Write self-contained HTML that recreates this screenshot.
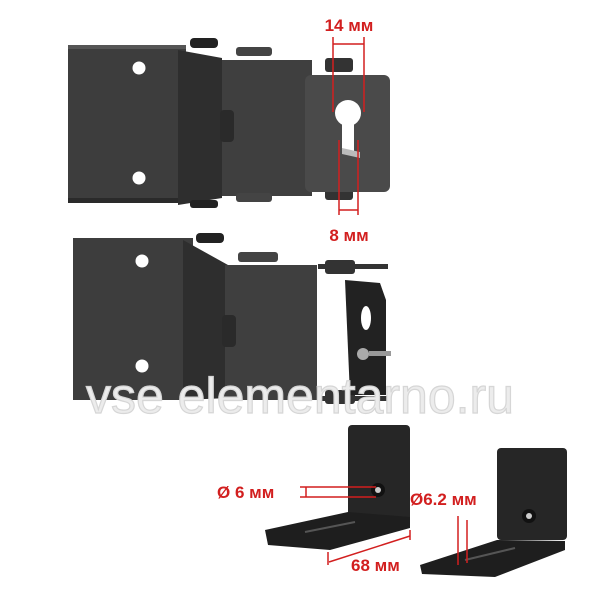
<!DOCTYPE html>
<html><head><meta charset="utf-8"><style>
html,body{margin:0;padding:0;background:#fff;}
svg{display:block}
text{font-family:"Liberation Sans",sans-serif;font-weight:bold;}
</style></head><body>
<svg width="600" height="600" viewBox="0 0 600 600" xmlns="http://www.w3.org/2000/svg">
<rect width="600" height="600" fill="#fff"/>
<!-- TOP BRACKET -->
<rect x="68" y="45" width="118" height="158" fill="#3d3d3d"/>
<rect x="68" y="45" width="118" height="4" fill="#555"/>
<rect x="68" y="198" width="118" height="5" fill="#2a2a2a"/>
<polygon points="178,50 222,58 222,198 178,205" fill="#2e2e2e"/>
<circle cx="139" cy="68" r="6.5" fill="#fff"/>
<circle cx="139" cy="178" r="6.5" fill="#fff"/>
<rect x="222" y="60" width="90" height="136" fill="#3f3f3f"/>
<rect x="220" y="110" width="14" height="32" rx="4" fill="#2a2a2a"/>
<rect x="190" y="38" width="28" height="10" rx="4" fill="#222"/>
<rect x="236" y="47" width="36" height="9" rx="3" fill="#444"/>
<rect x="190" y="200" width="28" height="8" rx="3" fill="#222"/>
<rect x="236" y="193" width="36" height="9" rx="3" fill="#444"/>
<rect x="325" y="58" width="28" height="14" rx="3" fill="#333"/>
<rect x="325" y="186" width="28" height="14" rx="3" fill="#333"/>
<rect x="305" y="75" width="85" height="117" rx="6" fill="#4a4a4a"/>
<circle cx="348" cy="113" r="13" fill="#fff"/>
<rect x="342" y="113" width="12" height="38" fill="#fff"/>
<polygon points="342,148 360,152 360,158 342,154" fill="#bbb"/>
<g stroke="#d21f1f" stroke-width="1.5">
<line x1="333" y1="37" x2="333" y2="112"/>
<line x1="364" y1="37" x2="364" y2="112"/>
<line x1="333" y1="44" x2="364" y2="44"/>
<line x1="339" y1="140" x2="339" y2="215"/>
<line x1="358" y1="140" x2="358" y2="215"/>
<line x1="339" y1="210" x2="358" y2="210"/>
</g>
<text x="349" y="31" font-size="17" fill="#d21f1f" text-anchor="middle">14 мм</text>
<text x="349" y="241" font-size="17" fill="#d21f1f" text-anchor="middle">8 мм</text>
<!-- BOTTOM BRACKET -->
<rect x="73" y="238" width="120" height="162" fill="#3d3d3d"/>
<polygon points="183,240 228,265 228,398 183,400" fill="#2e2e2e"/>
<circle cx="142" cy="261" r="6.5" fill="#fff"/>
<circle cx="142" cy="366" r="6.5" fill="#fff"/>
<rect x="225" y="265" width="92" height="135" fill="#3f3f3f"/>
<rect x="222" y="315" width="14" height="32" rx="4" fill="#2a2a2a"/>
<rect x="196" y="233" width="28" height="10" rx="4" fill="#222"/>
<rect x="238" y="252" width="40" height="10" rx="3" fill="#444"/>
<rect x="318" y="264" width="70" height="5" fill="#333"/>
<rect x="325" y="260" width="30" height="14" rx="3" fill="#333"/>
<rect x="318" y="396" width="70" height="5" fill="#333"/>
<rect x="325" y="390" width="30" height="14" rx="3" fill="#333"/>
<polygon points="345,280 380,283 386,300 386,395 350,395" fill="#222"/>
<ellipse cx="366" cy="318" rx="5" ry="12" fill="#fff"/>
<circle cx="363" cy="354" r="6" fill="#aaa"/>
<rect x="369" y="351" width="22" height="5" fill="#999"/>
<!-- watermark -->
<text x="300" y="413" font-size="50" fill="#ececec" stroke="#d6d6d6" stroke-width="1.2" text-anchor="middle" style="font-weight:normal">vse elementarno.ru</text>
<!-- L BRACKETS -->
<rect x="348" y="425" width="62" height="98" rx="4" fill="#262626"/>
<polygon points="265,530 348,512 410,517 410,528 330,550 268,545" fill="#1e1e1e"/>
<line x1="305" y1="532" x2="355" y2="522" stroke="#555" stroke-width="2"/>
<circle cx="378" cy="490" r="7" fill="#111"/>
<circle cx="378" cy="490" r="3" fill="#ccc"/>
<rect x="497" y="448" width="70" height="92" rx="4" fill="#262626"/>
<polygon points="420,565 497,540 565,541 565,550 495,577 422,574" fill="#1e1e1e"/>
<line x1="465" y1="560" x2="515" y2="548" stroke="#555" stroke-width="2"/>
<circle cx="529" cy="516" r="7" fill="#111"/>
<circle cx="529" cy="516" r="3" fill="#ccc"/>
<g stroke="#d21f1f" stroke-width="1.5">
<line x1="300" y1="487" x2="376" y2="487"/>
<line x1="300" y1="497" x2="376" y2="497"/>
<line x1="306" y1="487" x2="306" y2="497"/>
<line x1="328" y1="552" x2="328" y2="565"/>
<line x1="410" y1="530" x2="410" y2="540"/>
<line x1="329" y1="562" x2="410" y2="536"/>
<line x1="458" y1="516" x2="458" y2="565"/>
<line x1="467" y1="520" x2="467" y2="563"/>
</g>
<text x="217" y="498" font-size="17" fill="#d21f1f">Ø 6 мм</text>
<text x="410" y="505" font-size="17" fill="#d21f1f">Ø6.2 мм</text>
<text x="351" y="571" font-size="17" fill="#d21f1f">68 мм</text>
</svg>
</body></html>
